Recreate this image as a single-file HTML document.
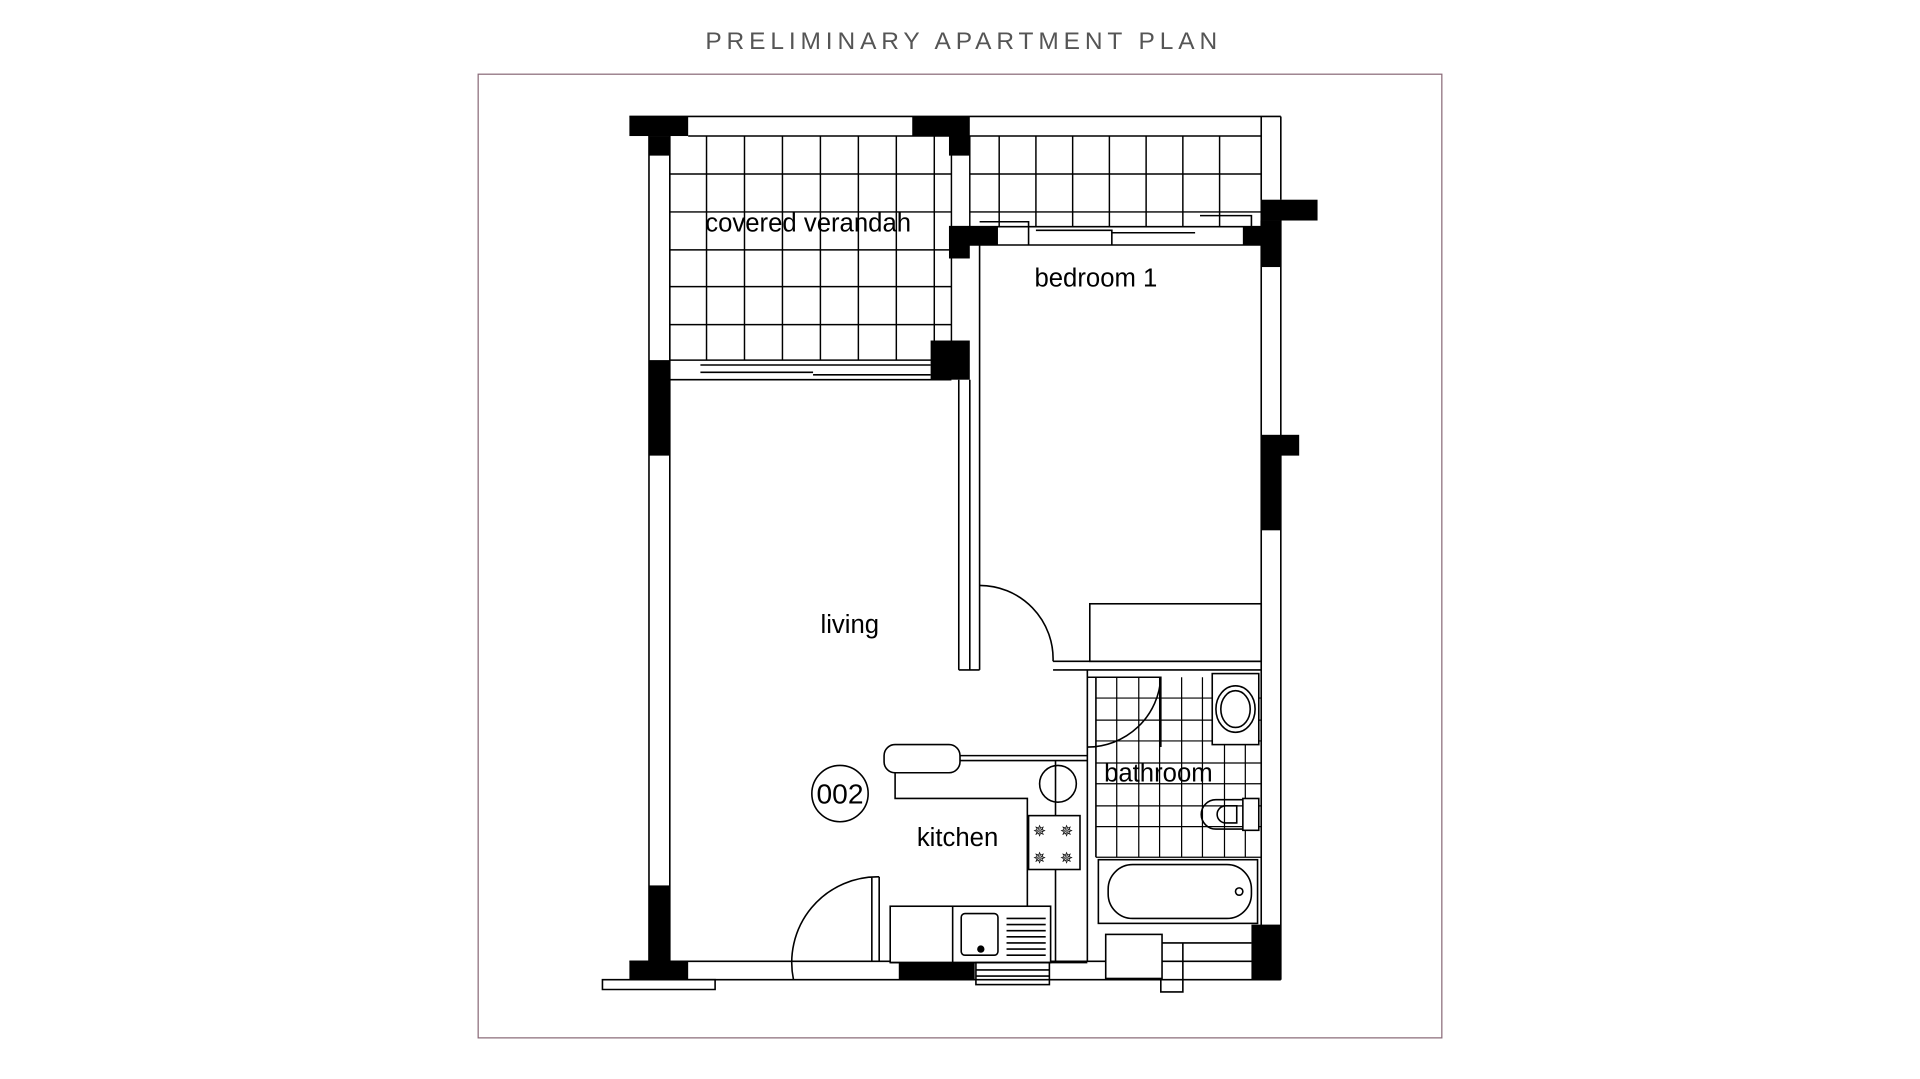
<!DOCTYPE html>
<html><head><meta charset="utf-8"><style>
html,body{margin:0;padding:0;background:#fff;}
svg{display:block;}
</style></head><body>
<svg width="1920" height="1079" viewBox="0 0 1568 881" xmlns="http://www.w3.org/2000/svg" font-family="Liberation Sans, Arial, sans-serif">
<rect width="1568" height="881" fill="#fff"/>
<text x="787" y="40" text-anchor="middle" font-size="20" letter-spacing="4" fill="#555">PRELIMINARY APARTMENT PLAN</text>
<rect x="390.5" y="60.5" width="787" height="787" fill="none" stroke="#8a6a78" stroke-width="1"/>
<g stroke="#000" stroke-width="1.3" fill="none">
<g stroke-width="1.2">
<path d="M547 111V294M577 111V294M608 111V294M639 111V294M670 111V294M701 111V294M732 111V294M763 111V294M777 111V294"/>
<path d="M547 142H777M547 173H777M547 204H777M547 234H777M547 265H777"/>
<path d="M792 111V185M816 111V185M846 111V185M876 111V185M906 111V185M936 111V185M966 111V185M996 111V185M1030 111V185"/>
<path d="M792 142H1030M792 173H1030M562 111H1030"/>
</g>
<path d="M514 95H1046M1030 95V163M1046 95V163"/>
<path d="M530 95V800M547 95V800"/>
<path d="M1030 180V800M1046 180V800"/>
<path d="M547 294H777M547 310H777M572 298H664M572 304H664M664 298H760M664 306H760"/>
<path d="M775 185H1030M775 200H1030M800 181H840V200M846 188H908V200M908 190H976M980 176H1022V200"/>
<path d="M783 310V547M792 310V547M800 200V478M783 547H800M800 478V547"/>
<path d="M800 478A60 60 0 0 1 860 540"/>
<path d="M860 540H1030M860 547H1030"/>
<rect x="890" y="493" width="140" height="47"/>
<path d="M888 547V785M895 553V700"/>
<g stroke-width="1">
<path d="M912 553V700M930 553V700M947 553V700M965 553V700M982 553V700M1000 553V700M1017 553V700"/>
<path d="M895 570H1030M895 588H1030M895 605H1030M895 623H1030M895 640H1030M895 658H1030M895 675H1030M895 700H1030"/>
</g>
<path d="M888 610A60 60 0 0 0 948 553M888 553H948V610"/>
<rect x="990" y="550" width="38" height="58" fill="#fff"/>
<ellipse cx="1009" cy="579" rx="16" ry="19" fill="#fff"/>
<ellipse cx="1009" cy="579" rx="12" ry="15"/>
<rect x="1015" y="652" width="13" height="26" fill="#fff"/>
<path d="M1015 653H993A12 12 0 0 0 993 677H1015"/>
<path d="M1010 658H1001A7 7 0 0 0 1001 672H1010Z"/>
<rect x="897" y="702" width="130" height="52" fill="#fff"/>
<rect x="905" y="706" width="117" height="44" rx="20"/>
<circle cx="1012" cy="728" r="3"/>
<path d="M514 785H1030M514 800H1046"/>
<path d="M492 800H584V808H492Z"/>
<rect x="903" y="763" width="46" height="36" fill="#fff"/>
<path d="M949 770H1022M966 770V810H948V800"/>
<path d="M648 800A70 70 0 0 1 718 716M718 716V785M712 716V785"/>
<!-- kitchen -->
<path d="M731 630V652H839V740"/>
<rect x="722" y="608" width="62" height="23" rx="9" fill="#fff"/>
<path d="M784 617H888M784 621H888"/>
<circle cx="864" cy="640" r="15"/>
<path d="M862 621V786M838 786H888"/>
<rect x="840" y="666" width="42" height="44" fill="#fff"/>
<rect x="727" y="740" width="131" height="46" fill="#fff"/>
<path d="M778 740V786M727 786H858"/>
<rect x="785" y="746" width="30" height="34" rx="3"/>
<path d="M822 750H854M822 755H854M822 760H854M822 765H854M822 770H854M822 775H854M822 780H854"/>
<rect x="797" y="786" width="60" height="18"/>
<path d="M797 792H857M797 797H857"/>
</g>
<g fill="#000">
<rect x="514" y="95" width="48" height="16"/>
<rect x="530" y="111" width="17" height="16"/>
<rect x="530" y="294" width="17" height="78"/>
<rect x="530" y="723" width="17" height="64"/>
<rect x="514" y="785" width="48" height="15"/>
<rect x="745" y="95" width="47" height="16"/>
<rect x="775" y="111" width="17" height="16"/>
<rect x="760" y="278" width="32" height="32"/>
<rect x="775" y="185" width="40" height="15"/>
<rect x="775" y="185" width="17" height="26"/>
<rect x="1015" y="185" width="15" height="15"/>
<rect x="1030" y="163" width="46" height="17"/>
<rect x="1030" y="180" width="16" height="38"/>
<rect x="1030" y="355" width="16" height="78"/>
<rect x="1046" y="355" width="15" height="17"/>
<rect x="1022" y="755" width="24" height="45"/>
<rect x="734" y="786" width="62" height="14"/>
<circle cx="801" cy="775" r="3"/>
</g>
<circle cx="686" cy="648" r="23" fill="none" stroke="#000" stroke-width="1.3"/>
<g font-size="21" fill="#000" text-anchor="middle">
<text x="660" y="189">covered verandah</text>
<text x="895" y="234">bedroom 1</text>
<text x="694" y="517">living</text>
<text x="782" y="691">kitchen</text>
<text x="946" y="638">bathroom</text>
<text x="686" y="656" font-size="23">002</text>
</g>
<g font-size="13" text-anchor="middle" fill="#000">
<text x="849" y="683">✵</text><text x="871" y="683">✵</text><text x="849" y="705">✵</text><text x="871" y="705">✵</text>
</g>
</svg>
</body></html>
